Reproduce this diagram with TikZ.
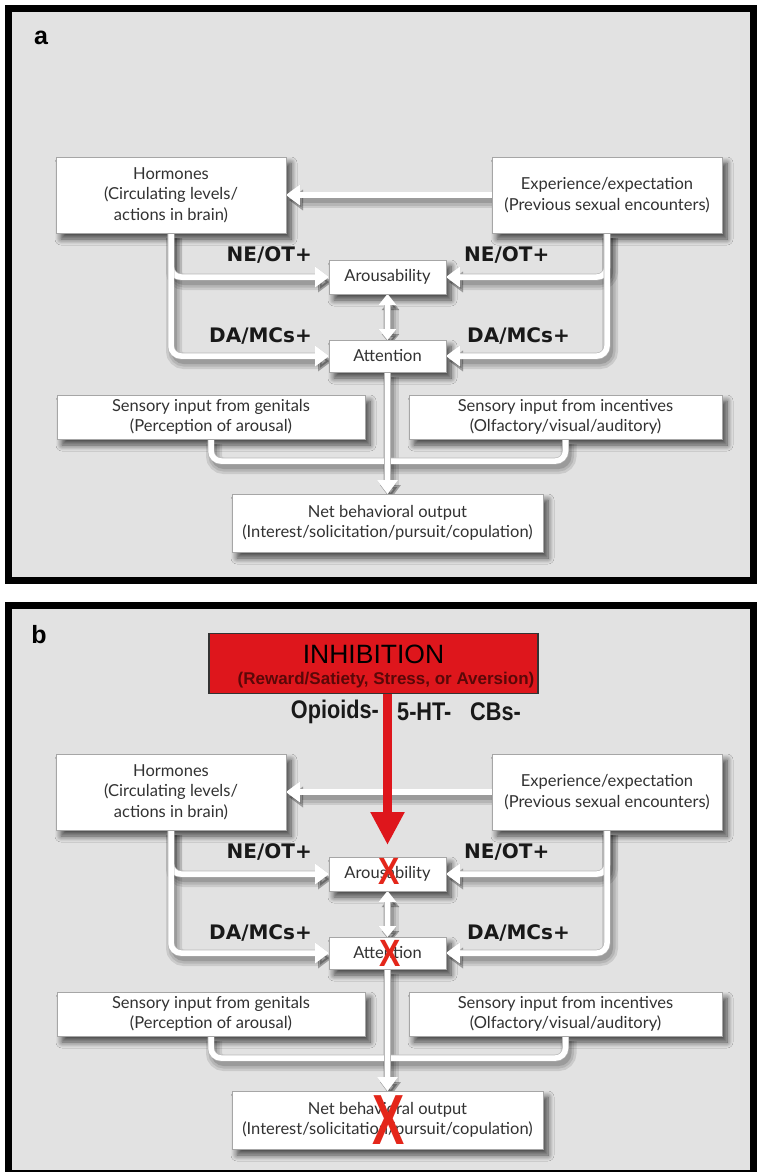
\documentclass[tikz,border=0pt]{standalone}
\usepackage{fontspec}
\usepackage{graphicx}
\setmainfont{Lato}
\newfontfamily\tagfont{DejaVu Sans}
\newfontfamily\arialfont{Liberation Sans}
\newfontfamily\narrowfont[FakeStretch=0.85]{Liberation Sans}
\usetikzlibrary{arrows.meta,shadows.blur}

\definecolor{panelgray}{RGB}{226,226,226}
\definecolor{boxtext}{RGB}{50,50,50}
\definecolor{inhred}{RGB}{222,22,28}
\definecolor{xred}{RGB}{228,38,26}
\definecolor{darkred}{RGB}{90,8,8}

\tikzset{
  geom/.style={inner sep=0pt, outer sep=0pt},
  sz-hor/.style={minimum width=230pt, minimum height=76pt},
  sz-aro/.style={minimum width=117pt, minimum height=34pt},
  sz-att/.style={minimum width=117pt, minimum height=32pt},
  sz-gen/.style={minimum width=308pt, minimum height=44pt},
  sz-inc/.style={minimum width=313pt, minimum height=44pt},
  sz-net/.style={minimum width=311pt, minimum height=58pt},
  box/.style={geom, draw=black!35, line width=0.6pt, fill=white, text=boxtext,
    align=center, font=\fontsize{16.5}{20.5}\selectfont},
  boxshadow/.style={blur shadow={shadow xshift=5pt, shadow yshift=-6pt,
    shadow blur radius=6pt, shadow opacity=70, shadow blur steps=8}},
  tag/.style={font=\tagfont\bfseries\fontsize{20}{20}\selectfont,
    text=black!90, inner sep=0pt},
  oplabel/.style={font=\narrowfont\bfseries\fontsize{25.5}{25.5}\selectfont,
    text=black!90, inner sep=0pt},
  xmark/.style={text=xred, inner sep=0pt},
  wireend/.style={-{Triangle[width=20pt,length=14pt]}},
  wireboth/.style={{Triangle[width=17pt,length=11pt]}-{Triangle[width=17pt,length=11pt]}},
  wirewhite/.style={draw=white, line width=5.5pt, rounded corners=10pt,
    preaction={draw=black!28, line width=6.8pt}},
  wireshadow/.style={draw=black, opacity=0.10, line width=16pt, rounded corners=10pt,
    preaction={draw=black, opacity=0.10, line width=11pt},
    preaction={draw=black, opacity=0.14, line width=6pt}},
}

% connectors shared by both panels; "wirestyle" is set per pass
\newcommand\wires{%
  \draw[wirestyle, wireend] (exp.west) -- (hor.east);
  \draw[wirestyle, wireend] (hor.south) |- (aro.west);
  \draw[wirestyle, wireend] (hor.south) |- (att.west);
  \draw[wirestyle, wireend] (exp.south) |- (aro.east);
  \draw[wirestyle, wireend] (exp.south) |- (att.east);
  \draw[wirestyle, wireboth] (aro.south) -- (att.north);
  \draw[wirestyle] (gen.south) |- (merge);
  \draw[wirestyle] (inc.south) |- (merge);
  \draw[wirestyle, wireend] (att.south) -- (net.north);
}

% one complete flow diagram
\newcommand\drawpanel{%
  % outlines of the boxes, used to route the connectors
  \node[geom, sz-hor] (hor) at (171,195) {};
  \node[geom, sz-hor] (exp) at (607,195) {};
  \node[geom, sz-aro] (aro) at (387.5,277) {};
  \node[geom, sz-att] (att) at (387.5,356) {};
  \node[geom, sz-gen] (gen) at (211,417) {};
  \node[geom, sz-inc] (inc) at (565.5,417) {};
  \node[geom, sz-net] (net) at (387.5,523) {};
  \coordinate (merge) at (387.5,461);
  % soft shadows of boxes and connectors
  \foreach \n in {hor,exp,aro,att,gen,inc,net}
    \path[boxshadow] (\n.south west) rectangle (\n.north east);
  \begin{scope}[transform canvas={shift={(3pt,-5pt)}}, wirestyle/.style={wireshadow}]
    \wires
  \end{scope}
  \begin{scope}[wirestyle/.style={wirewhite}]
    \wires
  \end{scope}
  % the boxes themselves
  \node[box, sz-hor] (horb) at (hor) {Hormones\\(Circulating levels/\\actions in brain)};
  \node[box, sz-hor] (expb) at (exp) {Experience/expectation\\(Previous sexual encounters)};
  \node[box, sz-aro] (arob) at (aro) {Arousability};
  \node[box, sz-att] (attb) at (att) {Attention};
  \node[box, sz-gen] (genb) at (gen) {Sensory input from genitals\\(Perception of arousal)};
  \node[box, sz-inc] (incb) at (inc) {Sensory input from incentives\\(Olfactory/visual/auditory)};
  \node[box, sz-net] (netb) at (net) {Net behavioral output\\(Interest/solicitation/pursuit/copulation)};
  \node[tag, anchor=east] (ne1) at (312,255) {NE/OT+};
  \node[tag, anchor=west] (ne2) at (464,255) {NE/OT+};
  \node[tag, anchor=east] (da1) at (312,336) {DA/MCs+};
  \node[tag, anchor=west] (da2) at (467,336) {DA/MCs+};
}

\begin{document}
\begin{tikzpicture}[x=1pt, y=-1pt]
  \useasboundingbox (0,0) rectangle (758,1172);
  \fill[white] (0,0) rectangle (758,1172);
  \draw[line width=7pt, fill=panelgray] (8.5,8.5) rectangle (753.5,580);
  \draw[line width=7pt, fill=panelgray] (8.5,605) rectangle (753.5,1173.5);

  \node[font=\arialfont\bfseries\fontsize{25}{25}\selectfont, inner sep=0pt] (pa) at (41,38) {a};
  \node[font=\arialfont\bfseries\fontsize{25}{25}\selectfont, inner sep=0pt] (pb) at (39,635) {b};

  \begin{scope}[name prefix=a-]
    \drawpanel
  \end{scope}
  \begin{scope}[shift={(0,597)}, name prefix=b-]
    \drawpanel
  \end{scope}

  % inhibitory input of panel b
  \node[draw=black!80, line width=1.2pt, fill=inhred, minimum width=329pt,
        minimum height=60pt, inner sep=0pt] (inh) at (373.5,663.5) {};
  \node[font=\arialfont\fontsize{26.5}{26.5}\selectfont, text=black, inner sep=0pt]
    (inht) at (373.5,654) {INHIBITION};
  \node[font=\arialfont\bfseries\fontsize{17}{17}\selectfont, text=darkred, inner sep=0pt]
    (inhs) at (386,680) {(Reward/Satiety, Stress, or Aversion)};
  \draw[inhred, line width=9pt, -{Triangle[width=32pt,length=33pt]}, shorten >=12pt]
    (inh.south -| b-aro.north) -- (b-aro.north);
  \node[oplabel, anchor=east] (op1) at (379,712) {Opioids-};
  \node[oplabel, anchor=west] (op2) at (397,712) {5-HT-};
  \node[oplabel, anchor=west] (op3) at (470,712) {CBs-};

  \node[xmark, font=\arialfont\bfseries\fontsize{38}{38}\selectfont] (x1) at (389,871) {\scalebox{0.84}[1]{X}};
  \node[xmark, font=\arialfont\bfseries\fontsize{38}{38}\selectfont] (x2) at (390,953) {\scalebox{0.84}[1]{X}};
  \node[xmark, font=\arialfont\bfseries\fontsize{71}{71}\selectfont] (x3) at (389,1120) {\scalebox{0.68}[1]{X}};
\end{tikzpicture}
\end{document}
